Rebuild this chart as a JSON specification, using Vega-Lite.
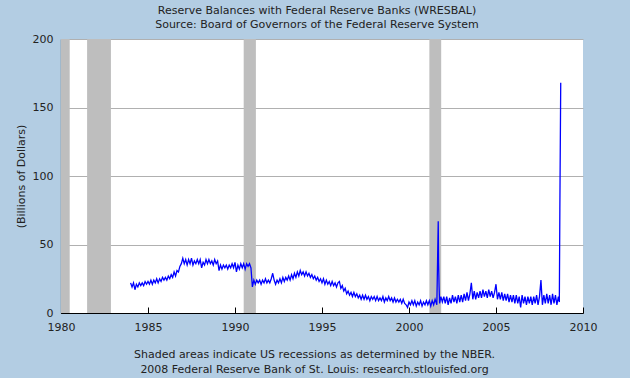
{
  "$schema": "https://vega.github.io/schema/vega-lite/v6.json",
  "autosize": {"type": "none"},
  "padding": {"left": 61, "top": 39, "right": 47, "bottom": 65},
  "width": 522,
  "height": 274,
  "background": "#B3CDE3",
  "config": {
    "view": {"fill": "#FFFFFF", "stroke": null},
    "font": "DejaVu Sans",
    "axis": {
      "domainColor": "#000000", "domainWidth": 1.2,
      "tickColor": "#000000", "tickSize": -6, "tickWidth": 1,
      "labelFont": "DejaVu Sans", "labelFontSize": 11, "labelColor": "#222222",
      "labelFlush": false, "labelOverlap": false,
      "titleFont": "DejaVu Sans", "titleFontSize": 11, "titleColor": "#222222", "titleFontWeight": "normal"
    }
  },
  "title": {
    "text": ["Reserve Balances with Federal Reserve Banks (WRESBAL)", "Source: Board of Governors of the Federal Reserve System"],
    "anchor": "middle", "frame": "group", "dx": -5, "offset": 3,
    "font": "DejaVu Sans", "fontSize": 11, "fontWeight": "normal", "color": "#222222", "lineHeight": 14.5
  },
  "datasets": {
    "rec": [
      {"start": 1980.0, "end": 1980.5},
      {"start": 1981.5, "end": 1982.87},
      {"start": 1990.5, "end": 1991.2},
      {"start": 2001.17, "end": 2001.85}
    ],
    "wresbal": [
      {"t":1984.000,"v":22},{"t":1984.083,"v":19},{"t":1984.167,"v":22},{"t":1984.250,"v":17},{"t":1984.333,"v":21},{"t":1984.417,"v":19},{"t":1984.500,"v":22},{"t":1984.583,"v":20},{"t":1984.667,"v":22},{"t":1984.750,"v":20},{"t":1984.833,"v":23},{"t":1984.917,"v":21},
      {"t":1985.000,"v":23},{"t":1985.083,"v":21},{"t":1985.167,"v":24},{"t":1985.250,"v":21},{"t":1985.333,"v":24},{"t":1985.417,"v":22},{"t":1985.500,"v":25},{"t":1985.583,"v":22},{"t":1985.667,"v":25},{"t":1985.750,"v":23},{"t":1985.833,"v":26},{"t":1985.917,"v":24},
      {"t":1986.000,"v":26},{"t":1986.083,"v":24},{"t":1986.167,"v":27},{"t":1986.250,"v":25},{"t":1986.333,"v":28},{"t":1986.417,"v":26},{"t":1986.500,"v":30},{"t":1986.583,"v":27},{"t":1986.667,"v":31},{"t":1986.750,"v":30},{"t":1986.833,"v":34},{"t":1986.917,"v":36},
      {"t":1987.000,"v":40},{"t":1987.083,"v":36},{"t":1987.167,"v":39},{"t":1987.250,"v":35},{"t":1987.333,"v":39},{"t":1987.417,"v":36},{"t":1987.500,"v":40},{"t":1987.583,"v":35},{"t":1987.667,"v":38},{"t":1987.750,"v":36},{"t":1987.833,"v":39},{"t":1987.917,"v":36},
      {"t":1988.000,"v":39},{"t":1988.083,"v":33},{"t":1988.167,"v":37},{"t":1988.250,"v":35},{"t":1988.333,"v":39},{"t":1988.417,"v":36},{"t":1988.500,"v":39},{"t":1988.583,"v":36},{"t":1988.667,"v":38},{"t":1988.750,"v":35},{"t":1988.833,"v":39},{"t":1988.917,"v":36},
      {"t":1989.000,"v":38},{"t":1989.083,"v":31},{"t":1989.167,"v":35},{"t":1989.250,"v":32},{"t":1989.333,"v":35},{"t":1989.417,"v":33},{"t":1989.500,"v":35},{"t":1989.583,"v":32},{"t":1989.667,"v":35},{"t":1989.750,"v":33},{"t":1989.833,"v":36},{"t":1989.917,"v":33},
      {"t":1990.000,"v":37},{"t":1990.083,"v":30},{"t":1990.167,"v":35},{"t":1990.250,"v":32},{"t":1990.333,"v":36},{"t":1990.417,"v":33},{"t":1990.500,"v":36},{"t":1990.583,"v":32},{"t":1990.667,"v":36},{"t":1990.750,"v":34},{"t":1990.833,"v":36},{"t":1990.917,"v":33},
      {"t":1991.000,"v":19},{"t":1991.083,"v":24},{"t":1991.167,"v":21},{"t":1991.250,"v":24},{"t":1991.333,"v":22},{"t":1991.417,"v":24},{"t":1991.500,"v":21},{"t":1991.583,"v":24},{"t":1991.667,"v":22},{"t":1991.750,"v":25},{"t":1991.833,"v":22},{"t":1991.917,"v":24},
      {"t":1992.000,"v":22},{"t":1992.083,"v":25},{"t":1992.167,"v":29},{"t":1992.250,"v":24},{"t":1992.333,"v":21},{"t":1992.417,"v":24},{"t":1992.500,"v":22},{"t":1992.583,"v":25},{"t":1992.667,"v":22},{"t":1992.750,"v":26},{"t":1992.833,"v":23},{"t":1992.917,"v":26},
      {"t":1993.000,"v":24},{"t":1993.083,"v":27},{"t":1993.167,"v":24},{"t":1993.250,"v":28},{"t":1993.333,"v":25},{"t":1993.417,"v":29},{"t":1993.500,"v":26},{"t":1993.583,"v":30},{"t":1993.667,"v":27},{"t":1993.750,"v":31},{"t":1993.833,"v":28},{"t":1993.917,"v":30},
      {"t":1994.000,"v":27},{"t":1994.083,"v":30},{"t":1994.167,"v":27},{"t":1994.250,"v":29},{"t":1994.333,"v":26},{"t":1994.417,"v":28},{"t":1994.500,"v":25},{"t":1994.583,"v":27},{"t":1994.667,"v":24},{"t":1994.750,"v":26},{"t":1994.833,"v":23},{"t":1994.917,"v":25},
      {"t":1995.000,"v":22},{"t":1995.083,"v":25},{"t":1995.167,"v":21},{"t":1995.250,"v":24},{"t":1995.333,"v":21},{"t":1995.417,"v":23},{"t":1995.500,"v":20},{"t":1995.583,"v":23},{"t":1995.667,"v":20},{"t":1995.750,"v":22},{"t":1995.833,"v":19},{"t":1995.917,"v":22},
      {"t":1996.000,"v":23},{"t":1996.083,"v":18},{"t":1996.167,"v":20},{"t":1996.250,"v":16},{"t":1996.333,"v":18},{"t":1996.417,"v":14},{"t":1996.500,"v":16},{"t":1996.583,"v":13},{"t":1996.667,"v":15},{"t":1996.750,"v":12},{"t":1996.833,"v":15},{"t":1996.917,"v":12},
      {"t":1997.000,"v":14},{"t":1997.083,"v":11},{"t":1997.167,"v":13},{"t":1997.250,"v":10},{"t":1997.333,"v":13},{"t":1997.417,"v":10},{"t":1997.500,"v":13},{"t":1997.583,"v":10},{"t":1997.667,"v":12},{"t":1997.750,"v":9},{"t":1997.833,"v":12},{"t":1997.917,"v":10},
      {"t":1998.000,"v":12},{"t":1998.083,"v":9},{"t":1998.167,"v":12},{"t":1998.250,"v":9},{"t":1998.333,"v":11},{"t":1998.417,"v":9},{"t":1998.500,"v":12},{"t":1998.583,"v":8},{"t":1998.667,"v":11},{"t":1998.750,"v":9},{"t":1998.833,"v":12},{"t":1998.917,"v":9},
      {"t":1999.000,"v":11},{"t":1999.083,"v":8},{"t":1999.167,"v":11},{"t":1999.250,"v":8},{"t":1999.333,"v":10},{"t":1999.417,"v":8},{"t":1999.500,"v":10},{"t":1999.583,"v":7},{"t":1999.667,"v":10},{"t":1999.750,"v":7},{"t":1999.833,"v":6},{"t":1999.917,"v":4},
      {"t":2000.000,"v":8},{"t":2000.083,"v":6},{"t":2000.167,"v":9},{"t":2000.250,"v":6},{"t":2000.333,"v":9},{"t":2000.417,"v":5},{"t":2000.500,"v":8},{"t":2000.583,"v":6},{"t":2000.667,"v":9},{"t":2000.750,"v":5},{"t":2000.833,"v":8},{"t":2000.917,"v":6},
      {"t":2001.000,"v":9},{"t":2001.083,"v":6},{"t":2001.167,"v":9},{"t":2001.250,"v":5},{"t":2001.333,"v":9},{"t":2001.417,"v":6},{"t":2001.500,"v":10},{"t":2001.600,"v":6},{"t":2001.680,"v":67},{"t":2001.700,"v":37},{"t":2001.730,"v":19},{"t":2001.760,"v":7},{"t":2001.833,"v":12},{"t":2001.917,"v":8},
      {"t":2002.000,"v":12},{"t":2002.083,"v":7},{"t":2002.167,"v":12},{"t":2002.250,"v":6},{"t":2002.333,"v":11},{"t":2002.417,"v":7},{"t":2002.500,"v":13},{"t":2002.583,"v":8},{"t":2002.667,"v":12},{"t":2002.750,"v":7},{"t":2002.833,"v":13},{"t":2002.917,"v":8},
      {"t":2003.000,"v":13},{"t":2003.083,"v":8},{"t":2003.167,"v":14},{"t":2003.250,"v":9},{"t":2003.333,"v":15},{"t":2003.417,"v":9},{"t":2003.500,"v":14},{"t":2003.583,"v":22},{"t":2003.667,"v":10},{"t":2003.750,"v":16},{"t":2003.833,"v":10},{"t":2003.917,"v":15},
      {"t":2004.000,"v":11},{"t":2004.083,"v":16},{"t":2004.167,"v":11},{"t":2004.250,"v":17},{"t":2004.333,"v":12},{"t":2004.417,"v":16},{"t":2004.500,"v":11},{"t":2004.583,"v":17},{"t":2004.667,"v":12},{"t":2004.750,"v":16},{"t":2004.833,"v":11},{"t":2004.917,"v":15},
      {"t":2005.000,"v":21},{"t":2005.083,"v":10},{"t":2005.167,"v":15},{"t":2005.250,"v":10},{"t":2005.333,"v":15},{"t":2005.417,"v":9},{"t":2005.500,"v":14},{"t":2005.583,"v":9},{"t":2005.667,"v":14},{"t":2005.750,"v":8},{"t":2005.833,"v":13},{"t":2005.917,"v":8},
      {"t":2006.000,"v":13},{"t":2006.083,"v":7},{"t":2006.167,"v":13},{"t":2006.250,"v":7},{"t":2006.333,"v":12},{"t":2006.417,"v":4},{"t":2006.500,"v":13},{"t":2006.583,"v":7},{"t":2006.667,"v":12},{"t":2006.750,"v":6},{"t":2006.833,"v":12},{"t":2006.917,"v":7},
      {"t":2007.000,"v":12},{"t":2007.083,"v":6},{"t":2007.167,"v":12},{"t":2007.250,"v":7},{"t":2007.333,"v":13},{"t":2007.417,"v":6},{"t":2007.500,"v":12},{"t":2007.583,"v":24},{"t":2007.667,"v":6},{"t":2007.750,"v":13},{"t":2007.833,"v":7},{"t":2007.917,"v":14},
      {"t":2008.000,"v":7},{"t":2008.083,"v":13},{"t":2008.167,"v":6},{"t":2008.250,"v":14},{"t":2008.333,"v":7},{"t":2008.417,"v":13},{"t":2008.500,"v":6},{"t":2008.583,"v":12},{"t":2008.640,"v":8},{"t":2008.670,"v":76},{"t":2008.720,"v":168}
    ]
  },
  "layer": [
    {
      "data": {"name": "rec"},
      "mark": {"type": "rect", "color": "#BEBEBE"},
      "encoding": {
        "x": {"field": "start", "type": "quantitative",
              "scale": {"domain": [1980, 2010], "nice": false, "zero": false},
              "axis": {"values": [1980,1985,1990,1995,2000,2005,2010], "format": "d", "grid": false, "labelPadding": 14,
                       "title": ["Shaded areas indicate US recessions as determined by the NBER.", "2008 Federal Reserve Bank of St. Louis: research.stlouisfed.org"],
                       "titlePadding": 16, "titleLineHeight": 15, "titleX": 253}},
        "x2": {"field": "end"},
        "y": {"datum": 0, "type": "quantitative",
              "scale": {"domain": [0, 200], "nice": false},
              "axis": {"values": [0,50,100,150,200], "grid": true, "gridColor": "#B0B0B0", "labelPadding": 14,
                       "title": "(Billions of Dollars)", "titlePadding": 6}},
        "y2": {"datum": 200}
      }
    },
    {
      "data": {"name": "wresbal"},
      "mark": {"type": "line", "color": "#0000FF", "strokeWidth": 1.3, "clip": true},
      "encoding": {
        "x": {"field": "t", "type": "quantitative"},
        "y": {"field": "v", "type": "quantitative"}
      }
    }
  ]
}
